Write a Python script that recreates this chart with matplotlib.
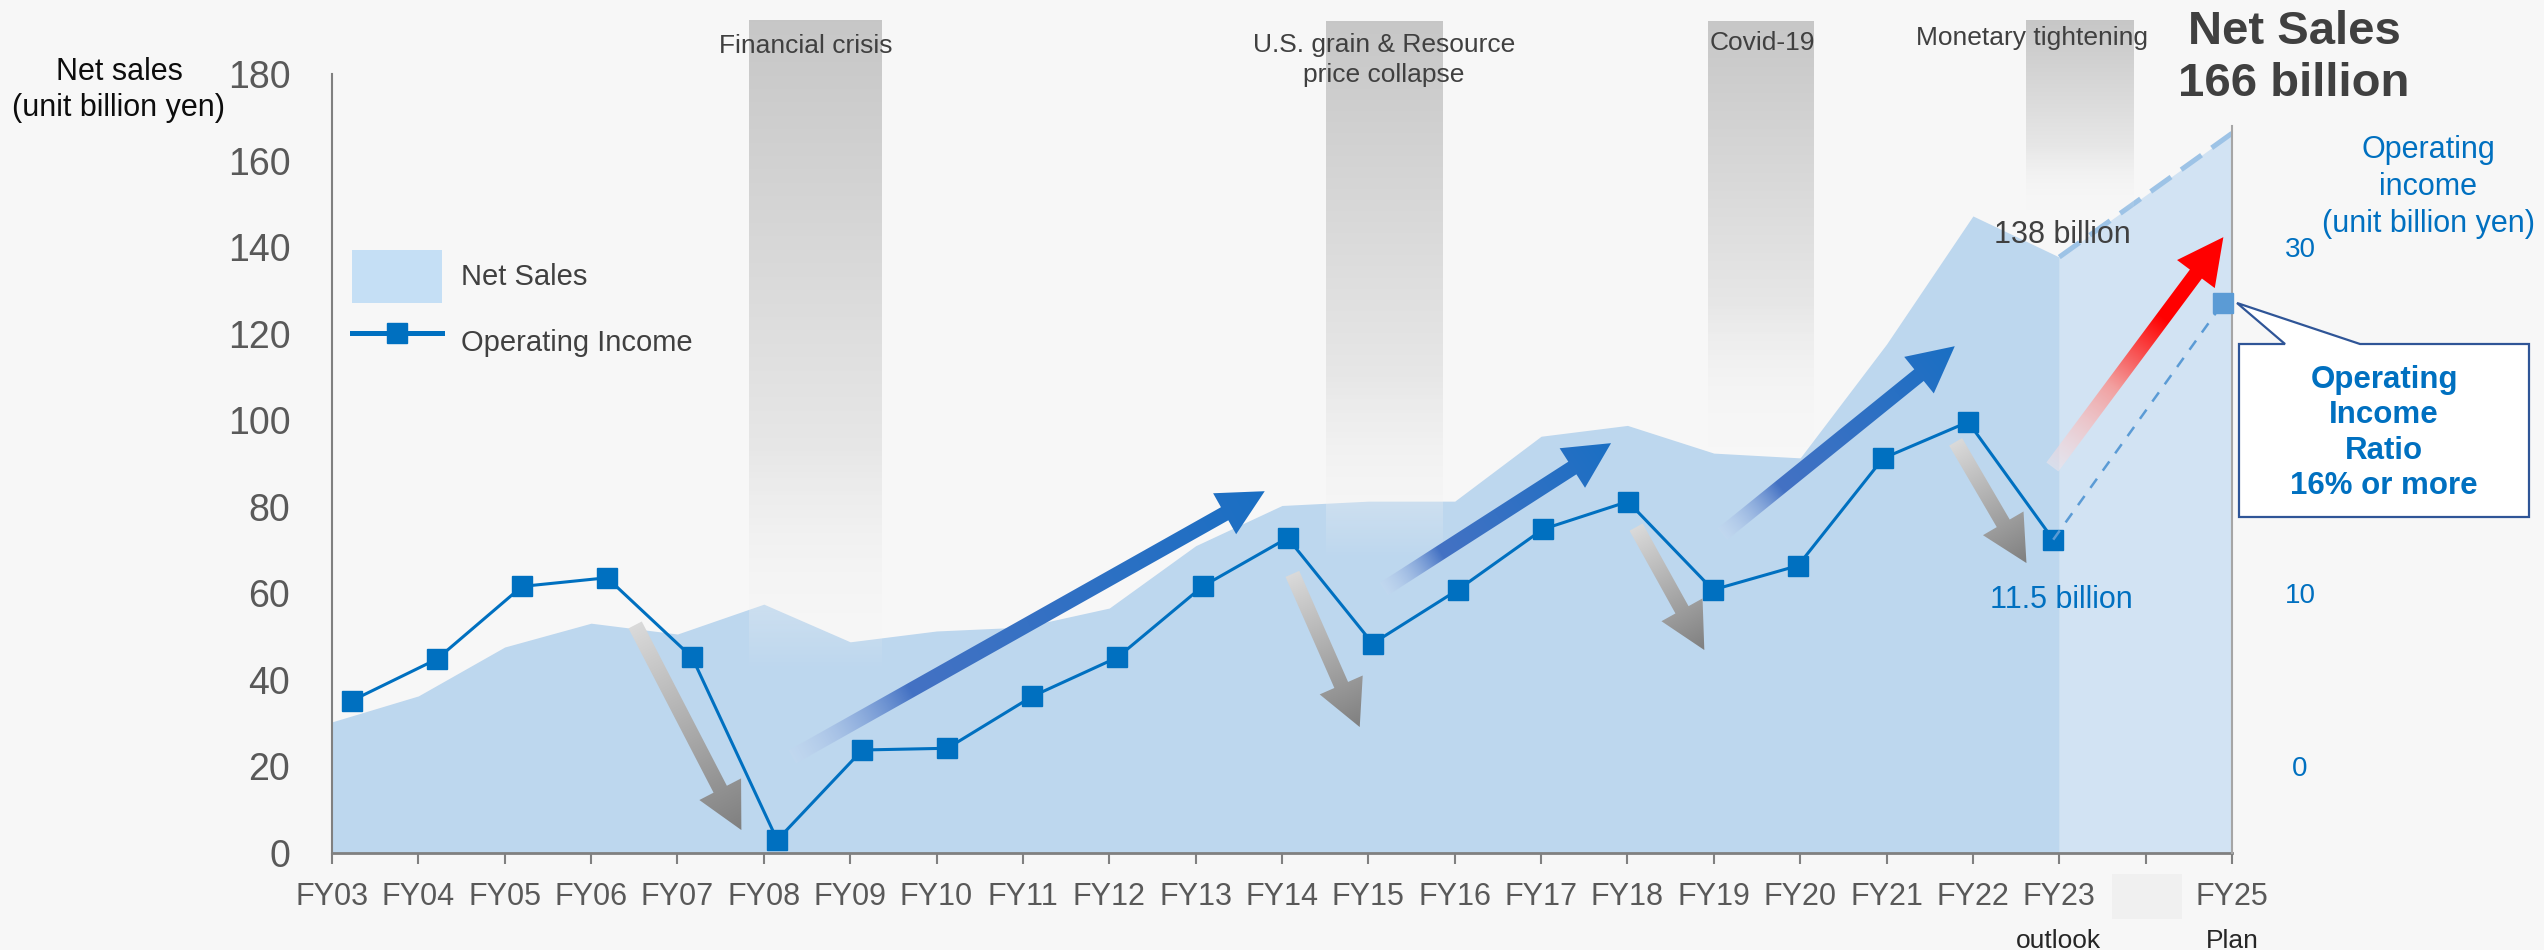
import numpy as np
import matplotlib
matplotlib.use("Agg")
import matplotlib.pyplot as plt
from matplotlib.colors import to_rgba
from matplotlib.lines import Line2D
from matplotlib.patches import Patch, Polygon, Rectangle

plt.rcParams["font.family"] = ["Liberation Sans", "DejaVu Sans"]

# ---- data (billion yen) ----
years = ["FY03", "FY04", "FY05", "FY06", "FY07", "FY08", "FY09", "FY10", "FY11",
         "FY12", "FY13", "FY14", "FY15", "FY16", "FY17", "FY18", "FY19", "FY20",
         "FY21", "FY22", "FY23", "FY24", "FY25"]
year_labels = [y if y != "FY24" else "" for y in years]
net_sales = [30.3, 36.3, 47.6, 53.1, 50.6, 57.5, 48.8, 51.3, 52.2, 56.6, 71.0,
             80.3, 81.3, 81.3, 96.3, 98.8, 92.4, 91.3, 117.6, 147.2, 137.7]
plan_years = ["FY23", "FY25"]
net_sales_plan = [137.7, 166.3]
op_income = [3.8, 6.2, 10.4, 10.9, 6.3, -4.25, 0.95, 1.05, 4.05, 6.3, 10.4,
             13.2, 7.1, 10.2, 13.7, 15.3, 10.2, 11.6, 17.8, 19.9, 13.1]
op_income_plan = 26.8
left_ticks = [0, 20, 40, 60, 80, 100, 120, 140, 160, 180]
right_ticks = [0, 10, 30]   # the 20 label sits under the callout box

# event bands: label, x from, x to (year index), lower end (net sales scale)
events = [("Financial crisis", 4.83, 6.36, 42.0),
          ("U.S. grain & Resource\nprice collapse", 11.51, 12.86, 68.0),
          ("Covid-19", 15.93, 17.15, 93.0),
          ("Monetary tightening", 19.61, 20.85, 148.0)]

# trend arrows: tail, tip (year index, net sales scale), kind
trends = [((3.51, 52.7), (4.74, 5.3), "down"),
          ((5.33, 22.2), (10.80, 83.6), "up"),
          ((11.12, 64.5), (11.90, 29.1), "down"),
          ((12.18, 61.0), (14.81, 94.7), "up"),
          ((15.10, 75.3), (15.89, 46.9), "down"),
          ((16.10, 73.7), (18.79, 117.1), "up"),
          ((18.80, 95.0), (19.62, 67.0), "down"),
          ((19.92, 89.2), (21.90, 142.3), "plan")]

BG = "#f7f7f7"
BLUE = "#0070c0"
LIGHT_BLUE = "#5b9bd5"
W, H = 2544, 950

fig = plt.figure(figsize=(W / 100, H / 100), dpi=100, facecolor=BG)
ax = fig.add_axes([332 / W, 1 - 853 / H, 1900 / W, 779 / H])
ax.set_facecolor("none")
ax.set_xlim(0, 22)
ax.set_ylim(0, 180)

x = np.arange(len(years))
idx = {y: i for i, y in enumerate(years)}
ax.fill_between(x[:len(net_sales)], net_sales, color="#bdd7ee", lw=0, zorder=1)
px = [idx[y] for y in plan_years]
ax.fill_between(px, net_sales_plan, color="#d2e3f3", lw=0, zorder=1)
ax.plot(px, net_sales_plan, ls=(0, (5, 2.5)), color="#9dc3e6", lw=3.6, zorder=2)

ax.set_yticks(left_ticks)
ax.set_xticks(x)
ax.set_xticklabels(year_labels)
ax.tick_params(axis="y", length=0, pad=30, labelsize=27, labelcolor="#595959")
ax.tick_params(axis="x", length=8, width=1.5, color="#808080", pad=13,
               labelsize=22, labelcolor="#595959")
for s in ["top", "right"]:
    ax.spines[s].set_visible(False)
ax.spines["left"].set_color("#808080")
ax.spines["left"].set_linewidth(1.5)
ax.spines["bottom"].set_color("#808080")
ax.spines["bottom"].set_linewidth(2)

# operating income on secondary axis (line points sit slightly off the ticks)
ax2 = ax.twinx()
ax2.set_ylim(-5, 40)
line_x = 0.23 + x * 0.985
n = len(op_income)
ax2.plot(line_x[:n], op_income, color=BLUE, lw=2.2, marker="s", ms=14.4,
         zorder=3, clip_on=False)
ax2.plot([line_x[n - 1], line_x[-1]], [op_income[-1], op_income_plan],
         ls=(0, (4.5, 4)), color=LIGHT_BLUE, lw=1.8, zorder=3, clip_on=False)
ax2.plot([line_x[-1]], [op_income_plan], "s", color=LIGHT_BLUE, ms=14.4,
         zorder=4, clip_on=False)
ax2.set_yticks(right_ticks)
ax2.tick_params(axis="y", length=0, pad=49, labelsize=20, labelcolor=BLUE)
for lbl in ax2.get_yticklabels():
    lbl.set_horizontalalignment("center")
for s in ["top", "left", "bottom"]:
    ax2.spines[s].set_visible(False)
ax2.spines["right"].set_color("#a6a6a6")
ax2.spines["right"].set_linewidth(1.5)
ax2.spines["right"].set_bounds(-5, 37)

ax2.text(20.03, 9.6, "11.5 billion", ha="center", va="center", fontsize=22,
         color=BLUE)
ax.text(20.04, 142.8, "138 billion", ha="center", va="center", fontsize=22,
        color="#404040", zorder=5)

# overlay in pixel units for decorations
ov = fig.add_axes([0, 0, 1, 1], zorder=10)
ov.set_xlim(0, W)
ov.set_ylim(H, 0)
ov.axis("off")
ov.patch.set_alpha(0)


def to_px(xv, yv):
    dx, dy = ax.transData.transform((xv, yv))
    return dx, H - dy


def band(x0, x1, top, bot):
    rows = int(bot - top)
    t = np.linspace(0, 1, rows)[:, None]
    c = (1 - t) * 0.78 + t * 0.97
    a = np.clip((1 - t) / 0.35, 0, 1)
    img = np.dstack([c, c, c, a]) * np.ones((1, 4, 1))
    ov.imshow(img, extent=(x0, x1, bot, top), origin="upper", aspect="auto",
              interpolation="bilinear", zorder=1)


for label, xa, xb, yb in events:
    x0, top = to_px(xa, 192.2)
    x1, bot = to_px(xb, yb)
    band(x0, x1, top, bot)

ov.text(806, 46, "Financial crisis", ha="center", va="center", fontsize=19,
        color="#404040", zorder=6)
ov.text(1384, 60, "U.S. grain & Resource\nprice collapse", ha="center",
        va="center", fontsize=19, color="#404040", linespacing=1.3, zorder=6)
ov.text(1762, 43, "Covid-19", ha="center", va="center", fontsize=19,
        color="#404040", zorder=6)
ov.text(2032, 38, "Monetary tightening", ha="center", va="center", fontsize=19,
        color="#404040", zorder=6)

stops = {
    "down": [(0, "#dadada", 1), (1, "#7f7f7f", 1)],
    "up": [(0, "#c9d9f1", 0.3), (0.25, "#4472c4", 1), (1, "#1a6fc3", 1)],
    "plan": [(0, "#f5e6ea", 0.5), (0.35, "#f2a0a0", 1), (0.65, "#ff0000", 1),
             (1, "#ff0000", 1)],
}


def gradient_arrow(p0, p1, kind, shaft=15, head_w=47, head_len=46):
    p0 = np.array(to_px(*p0))
    p1 = np.array(to_px(*p1))
    d = p1 - p0
    L = np.hypot(*d)
    u = d / L
    nrm = np.array([-u[1], u[0]])
    b = p1 - u * head_len
    pts = np.array([p0 + nrm * shaft / 2, b + nrm * shaft / 2, b + nrm * head_w / 2,
                    p1, b - nrm * head_w / 2, b - nrm * shaft / 2, p0 - nrm * shaft / 2])
    poly = Polygon(pts, closed=True, transform=ov.transData, fc="none", ec="none")
    ov.add_patch(poly)
    x0, y0 = np.floor(pts.min(axis=0))
    x1, y1 = np.ceil(pts.max(axis=0))
    X, Y = np.meshgrid(np.arange(x0, x1) + 0.5, np.arange(y0, y1) + 0.5)
    t = np.clip(((X - p0[0]) * u[0] + (Y - p0[1]) * u[1]) / L, 0, 1)
    st = stops[kind]
    pos = [s[0] for s in st]
    cols = [to_rgba(s[1], s[2]) for s in st]
    rgba = np.dstack([np.interp(t, pos, [c[k] for c in cols]) for k in range(4)])
    im = ov.imshow(rgba, extent=(x0, x1, y1, y0), origin="upper", aspect="auto",
                   interpolation="bilinear", zorder=4)
    im.set_clip_path(poly)


for tail, tip, kind in trends:
    gradient_arrow(tail, tip, kind)

# callout box
box = Polygon([(2239, 344), (2285, 344), (2237, 303), (2360, 344), (2529, 344),
               (2529, 517), (2239, 517)], closed=True, fc="white", ec="#2f5597",
              lw=1.6, zorder=7)
ov.add_patch(box)
ov.text(2384, 433, "Operating\nIncome\nRatio\n16% or more", ha="center",
        va="center", fontsize=22.5, weight="bold", color=BLUE, linespacing=1.22,
        zorder=8)

# patch hiding FY24 label
ov.add_patch(Rectangle((2112, 874), 70, 45, fc="#f0f0f0", ec="none", zorder=2))
ov.text(2058, 948, "outlook", ha="center", va="baseline", fontsize=19,
        color="#262626")
ov.text(2232, 948, "Plan", ha="center", va="baseline", fontsize=19,
        color="#262626")

ov.text(2294, 58, "Net Sales\n166 billion", ha="center", va="center",
        fontsize=34, weight="bold", color="#404040", linespacing=1.25)
ov.text(2428, 187, "Operating\nincome\n(unit billion yen)", ha="center",
        va="center", fontsize=22, color=BLUE, linespacing=1.3)
ov.text(119, 90, "Net sales\n(unit billion yen)", ha="center", va="center",
        fontsize=22, color="#0d0d0d", linespacing=1.3)

ov.set_xlim(0, W)
ov.set_ylim(H, 0)

handles = [Patch(facecolor="#c5dff5", edgecolor="none", label="Net Sales"),
           Line2D([], [], color=BLUE, lw=3.6, marker="s", markersize=14,
                  label="Operating Income")]
fig.legend(handles=handles, loc="upper left", bbox_to_anchor=(352 / W, 1 - 250 / H),
           frameon=False, fontsize=21, handlelength=3.1, handleheight=2.4,
           handletextpad=0.65, labelspacing=0.45, borderpad=0, borderaxespad=0,
           labelcolor="#404040")

fig.savefig("out.png", dpi=100, facecolor=BG)
